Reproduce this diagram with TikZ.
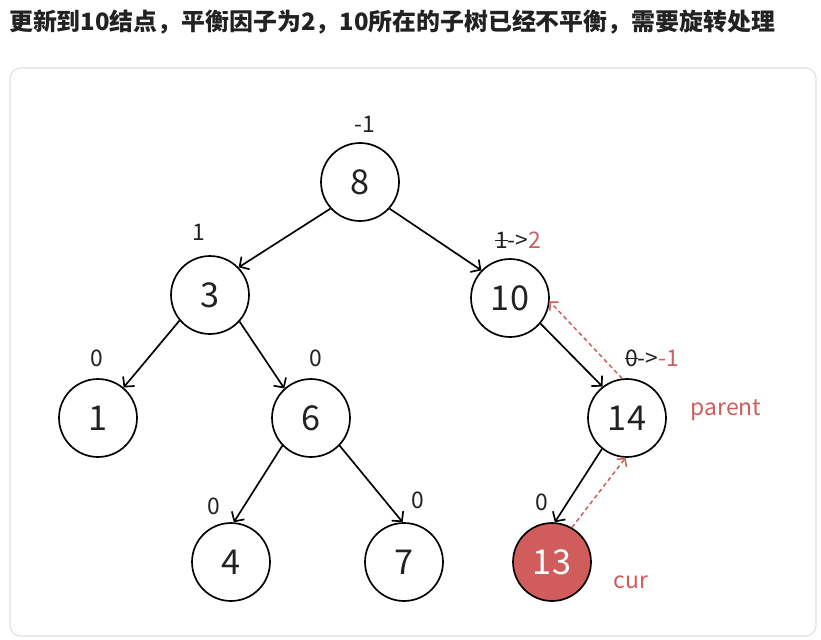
\documentclass[tikz,border=0pt]{standalone}
\usepackage{fontspec}
\setmainfont{Noto Sans CJK SC}
\usetikzlibrary{arrows.meta}
\definecolor{ink}{HTML}{222222}
\definecolor{hot}{HTML}{D05C5C}
\definecolor{framec}{HTML}{DEDEDE}
\newcommand\strk[1]{\setbox0\hbox{#1}\rlap{\rule[0.3em]{\wd0}{0.06em}}\box0}

\begin{document}
\begin{tikzpicture}[x=0.02cm,y=-0.02cm,
  tnode/.style={circle,draw=black,line width=0.95pt,minimum size=1.56cm,inner sep=0pt,
    text=ink,font=\fontsize{19.5}{20}\selectfont},
  bal/.style={text=ink,font=\fontsize{13}{14}\selectfont,inner sep=1pt},
  tag/.style={text=hot,font=\fontsize{13}{14}\selectfont,inner sep=1pt},
  edge/.style={-{Straight Barb[length=4pt,width=8.5pt]},black,line width=0.95pt},
  back/.style={-{Straight Barb[length=3.2pt,width=7pt]},hot,line width=0.85pt,
    dash pattern=on 2.4pt off 1.8pt}]
  \useasboundingbox (0,0) rectangle (821,639);
  \node[anchor=west,text=ink,font=\fontsize{13.6}{14}\selectfont\bfseries] (title) at (3,22)
    {更新到10结点，平衡因子为2，10所在的子树已经不平衡，需要旋转处理};
  \draw[framec,line width=0.6pt,rounded corners=6pt] (10,68) rectangle (816,636);
  % tree
  \foreach \n/\x/\y in {8/360/182, 3/210/295, 10/510/298, 1/98/418, 6/311/418,
                        14/627/418, 4/231/562, 7/404/562}{
    \node[tnode] (n\n) at (\x,\y) {\n};}
  \node[tnode,fill=hot,text=white] (n13) at (552,562) {13};
  \foreach \a/\b/\s/\e in {8/3/222/44, 8/10/318/136, 3/1/220/50, 3/6/318/132,
                           10/14/320/128, 6/4/224/86, 6/7/316/92, 14/13/231/86}{
    \draw[edge] (n\a.\s) -- (n\b.\e);}
  % balance factors
  \node[bal] (b8) at (365,124) {-1};
  \node[bal] (b3) at (199,232) {1};
  \node[bal] (b1) at (97,358) {0};
  \node[bal] (b6) at (316,358) {0};
  \node[bal] (b4) at (214,506) {0};
  \node[bal] (b7) at (418,500) {0};
  \node[bal] (b13) at (542,502) {0};
  \node[bal] (b10) at (518,240) {\strk{1}->\textcolor{hot}{2}};
  \node[bal] (b14) at (652,358) {\strk{0}->\textcolor{hot}{-1}};
  % walk back up
  \draw[back] (n13.60) -- (n14.268);
  \draw[back] (n14.97) -- (n10.-5);
  \node[tag] (parent) at (726,410) {parent};
  \node[tag] (cur) at (631,582) {cur};
\end{tikzpicture}
\end{document}
